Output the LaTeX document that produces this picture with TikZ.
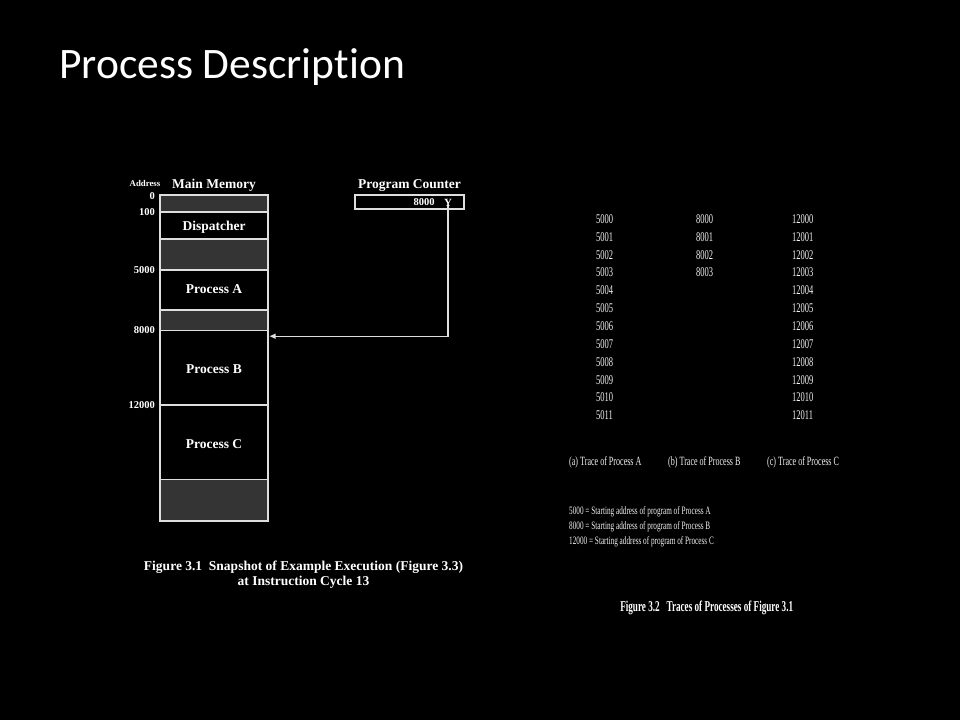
\documentclass[tikz,border=0pt]{standalone}
\usepackage{fontspec}
\setmainfont{Liberation Serif}
\newfontfamily\titlefont[Ligatures=NoCommon]{Carlito}
\newfontfamily\narrowfont[FakeStretch=0.64]{Liberation Serif}
\newfontfamily\captionfont[FakeStretch=0.61]{Liberation Serif}
\usetikzlibrary{arrows.meta,calc}

\definecolor{inkline}{HTML}{DEDEDE}
\definecolor{cellgray}{HTML}{343434}
\definecolor{softwhite}{HTML}{F2F2F2}

\newcommand{\fsz}[1]{\fontsize{#1}{#1}\selectfont}

\tikzset{
  memcell/.style={draw=inkline, line width=1.6pt, minimum width=108pt, inner sep=0pt,
                  text=white, font=\bfseries\fsz{13.5}},
  freecell/.style={memcell, fill=cellgray},
  cellname/.style={inner sep=0pt, text=white, font=\bfseries\fsz{13.5}},
  addr/.style={anchor=east, inner sep=0pt, text=white, font=\bfseries\fsz{10.5}},
  head/.style={inner sep=0pt, text=white, font=\bfseries\fsz{13.5}},
  trace/.style={anchor=west, inner sep=0pt, text=softwhite, font=\narrowfont\fsz{13.3}},
  tracehead/.style={anchor=west, inner sep=0pt, text=softwhite, font=\narrowfont\fsz{12.6}},
  legend/.style={anchor=west, inner sep=0pt, text=softwhite, font=\narrowfont\fsz{11.3}},
  link/.style={draw=inkline, line width=1.2pt, -{Triangle[length=6pt,width=5pt]}},
}

\begin{document}
\begin{tikzpicture}[x=1pt, y=-1pt]
  % canvas
  \fill[black] (0,0) rectangle (960,720);
  \useasboundingbox (0,0) rectangle (960,720);

  % slide title
  \node[anchor=base west, inner sep=0pt, text=white, font=\titlefont\fsz{43.5}]
    (title) at (59,78.5) {Process Description};

  % ---------- main memory column ----------
  \node[head] (mmhead) at (214,185) {Main Memory};
  \node[inner sep=0pt, text=white, font=\bfseries\fsz{8.8}] (addrhead) at (145,183) {Address};

  \node[freecell, minimum height=17pt]   (r0)   at (214,203.5) {};
  \node[memcell,  minimum height=27pt]   (disp) at (214,225.5) {};
  \node[freecell, minimum height=31pt]   (r1)   at (214,254.5) {};
  \node[memcell,  minimum height=40pt]   (pa)   at (214,290)   {};
  \node[freecell, minimum height=20.5pt] (r2)   at (214,320.25) {};
  \node[memcell,  minimum height=74.5pt] (pb)   at (214,367.75) {};
  \node[memcell,  minimum height=74.5pt] (pc)   at (214,442.25) {};
  \node[freecell, minimum height=41.5pt] (r3)   at (214,500.25) {};

  % cell names
  \node[cellname] (disp-t) at (214,227)   {Dispatcher};
  \node[cellname] (pa-t)   at (214,289.5) {Process A};
  \node[cellname] (pb-t)   at (214,369)   {Process B};
  \node[cellname] (pc-t)   at (214,444)   {Process C};

  % address marks
  \node[addr] (a0)     at (155,196) {0};
  \node[addr] (a100)   at (155,212) {100};
  \node[addr] (a5000)  at (155,270) {5000};
  \node[addr] (a8000)  at (155,330.5) {8000};
  \node[addr] (a12000) at (155,405) {12000};

  % ---------- program counter ----------
  \node[head] (pchead) at (409.5,186) {Program Counter};
  \node[draw=inkline, line width=1.6pt, minimum width=109pt, minimum height=14pt,
        inner sep=0pt] (pc-box) at (409.5,202) {};
  \node[inner sep=0pt, text=white, font=\bfseries\fsz{10.5}] (pcval) at (424,202) {8000};
  \node[inner sep=0pt, text=white, font=\bfseries\fsz{11}] (pctail) at (448,202.5) {Y};

  % pointer from the counter to process B
  \draw[link] (pctail.south) |- ($(pb.north east)+(0.8,6.5)$);

  % caption of the memory snapshot
  \node[head, align=center] (cap1) at (303.5,574.5)
    {Figure 3.1\ \ Snapshot of Example Execution (Figure 3.3)\\[2pt] at Instruction Cycle 13};

  % ---------- traces ----------
  \foreach \i in {0,...,11}{
    \pgfmathtruncatemacro{\addrA}{5000+\i}
    \pgfmathtruncatemacro{\addrC}{12000+\i}
    \node[trace] (ta\i) at (596,219+17.85*\i) {\addrA};
    \node[trace] (tc\i) at (792,219+17.85*\i) {\addrC};
  }
  \foreach \i in {0,...,3}{
    \pgfmathtruncatemacro{\addrB}{8000+\i}
    \node[trace] (tb\i) at (696,219+17.85*\i) {\addrB};
  }

  \node[tracehead] (ha) at (569,462.7) {(a) Trace of Process A};
  \node[tracehead] (hb) at (668,462.7) {(b) Trace of Process B};
  \node[tracehead] (hc) at (767,462.7) {(c) Trace of Process C};

  \node[legend] (l1) at (569,511.7) {5000 = Starting address of program of Process A};
  \node[legend] (l2) at (569,527.0) {8000 = Starting address of program of Process B};
  \node[legend] (l3) at (569,542.0) {12000 = Starting address of program of Process C};

  \node[inner sep=0pt, text=white, font=\captionfont\bfseries\fsz{15}] (cap2) at (706.7,608.3)
    {Figure 3.2\ \ \ Traces of Processes of Figure 3.1};
\end{tikzpicture}
\end{document}
